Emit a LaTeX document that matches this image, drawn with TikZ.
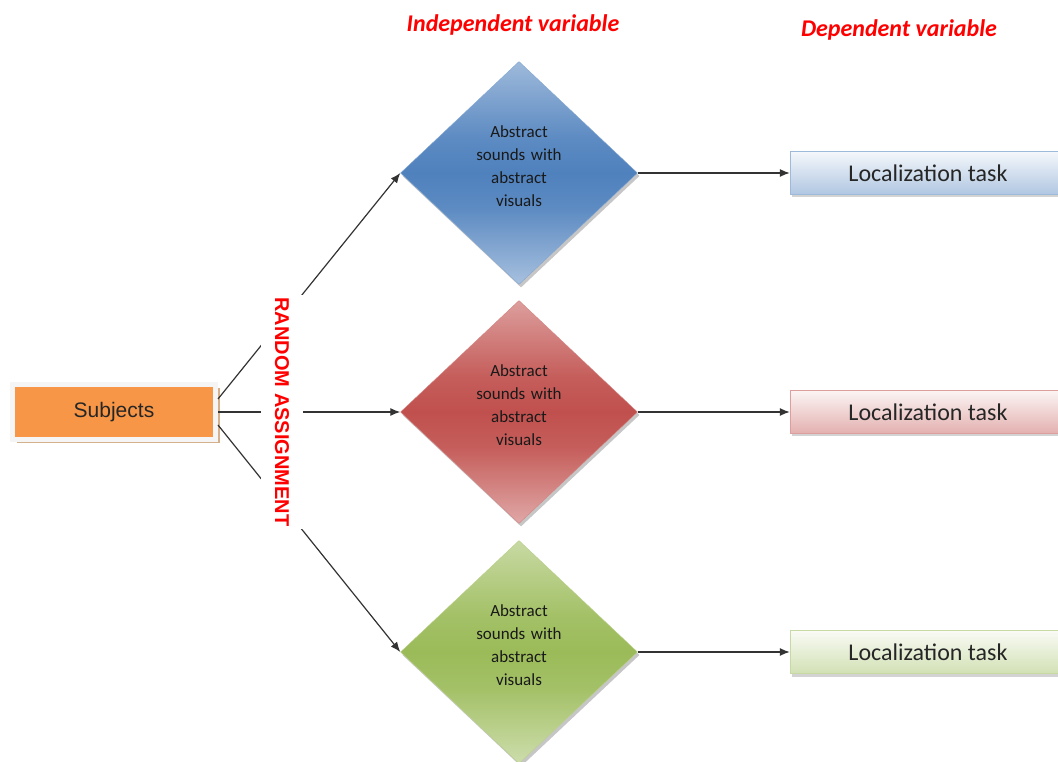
\documentclass[tikz,border=0pt]{standalone}
\usepackage{fontspec}
\setmainfont{Carlito}
\newfontfamily\arialfont{Liberation Sans}
\usepackage{xcolor}
\usetikzlibrary{positioning,shapes.geometric,shadows,arrows.meta}
\definecolor{subjorange}{RGB}{247,150,70}
\definecolor{subjshadow}{RGB}{212,176,140}
\definecolor{ivblue}{RGB}{79,129,189}
\definecolor{ivred}{RGB}{192,80,77}
\definecolor{ivgreen}{RGB}{155,187,89}
\definecolor{titlered}{RGB}{255,0,0}
\pgfdeclareverticalshading{ivbluediamond}{100bp}{color(0bp)=(ivblue!50!white); color(25bp)=(ivblue!50!white); color(42bp)=(ivblue!92!white); color(50bp)=(ivblue); color(58bp)=(ivblue!92!white); color(75bp)=(ivblue!55!white); color(100bp)=(ivblue!55!white)}
\pgfdeclareverticalshading{ivreddiamond}{100bp}{color(0bp)=(ivred!50!white); color(25bp)=(ivred!50!white); color(42bp)=(ivred!92!white); color(50bp)=(ivred); color(58bp)=(ivred!92!white); color(75bp)=(ivred!55!white); color(100bp)=(ivred!55!white)}
\pgfdeclareverticalshading{ivgreendiamond}{100bp}{color(0bp)=(ivgreen!50!white); color(25bp)=(ivgreen!50!white); color(42bp)=(ivgreen!92!white); color(50bp)=(ivgreen); color(58bp)=(ivgreen!92!white); color(75bp)=(ivgreen!55!white); color(100bp)=(ivgreen!55!white)}

\begin{document}
\begin{tikzpicture}[x=1pt,y=1pt,
    subjnode/.style={rectangle, fill=subjorange, draw=gray!8, line width=5pt, minimum width=203pt, minimum height=55pt, font=\arialfont\fontsize{21}{25}\selectfont, text=black!85, drop shadow={shadow xshift=4pt, shadow yshift=-4pt, fill=subjshadow, opacity=1}},
    diamondnode/.style={diamond, draw=#1!70!white, thin, minimum width=237pt, minimum height=223pt, inner sep=0pt, align=center, text width=90pt, font=\fontsize{17}{23}\selectfont, text=black!90, shading=#1diamond, drop shadow={shadow xshift=2pt, shadow yshift=-3pt, opacity=.45}},
    tasknode/.style={rectangle, draw=#1!55!white, thin, minimum width=276pt, minimum height=43pt, top color=#1!6!white, bottom color=#1!45!white, font=\fontsize{24}{28}\selectfont, text=black!85, drop shadow={shadow xshift=2pt, shadow yshift=-3pt, opacity=.35}},
    titlenode/.style={text=titlered, font=\bfseries\itshape\fontsize{24}{28}\selectfont},
    link/.style={draw=black!80, line width=1.2pt},
    arrowlink/.style={link, -{Latex[length=10pt,width=8pt]}},]
            \clip (0,0) rectangle (1058,761);
            %Nodes
            \node[subjnode](subjects) at (114,349){Subjects};
            \node[diamondnode=ivblue](blue_diamond) at (519,588){Abstract\\sounds with\\abstract\\visuals\\[-9pt]\mbox{}};
            \node[diamondnode=ivred](red_diamond) at (519,349){Abstract\\sounds with\\abstract\\visuals\\[-9pt]\mbox{}};
            \node[diamondnode=ivgreen](green_diamond) at (519,109){Abstract\\sounds with\\abstract\\visuals\\[-9pt]\mbox{}};
            \node[tasknode=ivblue](blue_task) at (928,588){Localization task};
            \node[tasknode=ivred](red_task) at (928,349){Localization task};
            \node[tasknode=ivgreen](green_task) at (928,109){Localization task};
            \node[titlenode](indep_title) at (513,736){Independent variable};
            \node[titlenode](dep_title) at (899,731){Dependent variable};

            %Lines
            \draw[arrowlink] ([yshift=13pt]subjects.east) -- (blue_diamond.west);
            \draw[arrowlink] (subjects.east) -- (red_diamond.west);
            \draw[arrowlink] ([yshift=-13pt]subjects.east) -- (green_diamond.west);
            \draw[arrowlink] (blue_diamond.east) -- (blue_task.west);
            \draw[arrowlink] (red_diamond.east) -- (red_task.west);
            \draw[arrowlink] (green_diamond.east) -- (green_task.west);

            %Label over the lines
            \node[fill=white, rotate=-90, inner xsep=3pt, inner ysep=14pt, text=titlered, font=\arialfont\bfseries\fontsize{20}{24}\selectfont](assignment) at (282,349){RANDOM ASSIGNMENT};
        \end{tikzpicture}
\end{document}
